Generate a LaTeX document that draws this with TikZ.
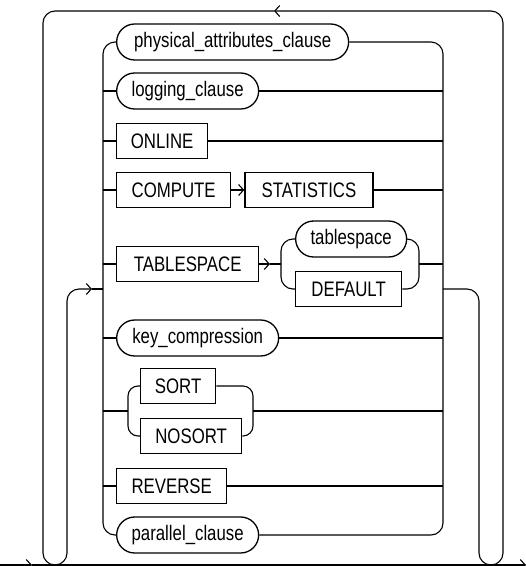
\documentclass[tikz,border=0pt]{standalone}
\usepackage{fontspec}
\setmainfont{Liberation Sans}[FakeStretch=0.8]
\usepackage{tikz}
\usetikzlibrary{arrows.meta,positioning,shapes.misc}
\tikzset{
  kwbox/.style={rectangle, draw=black, line width=1.3pt, fill=white,
                minimum height=35pt, inner sep=0pt,
                font=\fontsize{21}{25}\selectfont},
  clbox/.style={rounded rectangle, draw=black, line width=1.3pt, fill=white,
                minimum height=36pt, inner sep=0pt,
                font=\fontsize{21}{25}\selectfont},
  rail/.style={line width=1.1pt, draw=black, rounded corners=12pt},
  arr/.style={-{Straight Barb[length=5pt, width=11pt, line width=1.1pt]}},
}

\begin{document}
\begin{tikzpicture}[x=1pt, y=-1pt]
  \useasboundingbox (0,0) rectangle (526,566);
  % spines of the big choice
  \coordinate (lt) at (103,42);
  \coordinate (lb) at (103,535);
  \coordinate (rt) at (443,42);
  \coordinate (rb) at (443,535);
  % main line ends
  \coordinate (start) at (0,565);
  \coordinate (in) at (32,565);
  \coordinate (end) at (526,565);

  % the choices
  \node[clbox, minimum width=232pt, anchor=west] (pac) at (116,42) {physical\_attributes\_clause};
  \node[clbox, minimum width=142pt, anchor=west] (log) at (116,91) {logging\_clause};
  \node[kwbox, minimum width=91pt, anchor=west] (onl) at (116,141) {ONLINE};
  \node[kwbox, minimum width=114pt, anchor=west] (cmp) at (116,190) {COMPUTE};
  \node[kwbox, minimum width=128pt, right=13pt of cmp] (sta) {STATISTICS};
  \node[kwbox, minimum width=142pt, anchor=west] (tbs) at (116,264) {TABLESPACE};
  \node[clbox, minimum width=111pt, anchor=west] (tsp) at (295,239) {tablespace};
  \node[kwbox, minimum width=106pt, anchor=west] (dft) at (295,289) {DEFAULT};
  \node[clbox, minimum width=162pt, anchor=west] (key) at (116,338) {key\_compression};
  \node[kwbox, minimum width=75pt, anchor=west] (srt) at (140,386) {SORT};
  \node[kwbox, minimum width=101pt, anchor=west] (nos) at (140,436) {NOSORT};
  \node[kwbox, minimum width=110pt, anchor=west] (rev) at (116,486) {REVERSE};
  \node[clbox, minimum width=142pt, anchor=west] (par) at (116,535) {parallel\_clause};

  % main line
  \draw[rail, arr] (start) -- (in);
  \draw[rail, arr] (in) -- (end);

  % left and right spines
  \draw[rail] (pac.west) -- (lt) -- (lb) -- (par.west);
  \draw[rail] (pac.east) -- (rt) -- (rb) -- (par.east);
  \foreach \n in {log,onl,tbs,key,rev} {
    \draw[rail] (\n.west) -- (\n.west -| lt);
  }
  \foreach \n in {log,onl,sta,key,rev} {
    \draw[rail] (\n.east) -- (\n.east -| rt);
  }
  \draw[rail, arr] (cmp.east) -- (sta.west);
  \draw[rail] (cmp.west) -- (cmp.west -| lt);

  % tablespace / DEFAULT
  \coordinate (tsl) at (281,264);
  \coordinate (tsr) at (419,264);
  \draw[rail, arr] (tbs.east) -- (270,264);
  \draw[rail] (270,264) -- (tsl);
  \draw[rail] (tsp.west) -- (tsl |- tsp) -- (tsl |- dft) -- (dft.west);
  \draw[rail] (tsp.east) -- (tsr |- tsp) -- (tsr |- dft) -- (dft.east);
  \draw[rail] (tsr) -- (tsr -| rt);

  % SORT / NOSORT
  \coordinate (sol) at (128,411);
  \coordinate (sor) at (253,411);
  \draw[rail, rounded corners=10pt] (srt.west) -- (sol |- srt) -- (sol |- nos) -- (nos.west);
  \draw[rail, rounded corners=10pt] (srt.east) -- (sor |- srt) -- (sor |- nos) -- (nos.east);
  \draw[rail] (sol -| lt) -- (sol);
  \draw[rail] (sor) -- (sor -| rt);

  % repeat loop
  \coordinate (back) at (443,289);
  \coordinate (top) at (274,11);
  \coordinate (again) at (92,289);
  \draw[rail, arr] (back) -- (479,289) -- (479,565) -- (503,565) -- (503,11) -- (top);
  \draw[rail, arr] (top) -- (43,11) -- (43,565) -- (67,565) -- (67,289) -- (again);
  \draw[rail] (again) -- (again -| lt);
\end{tikzpicture}
\end{document}
